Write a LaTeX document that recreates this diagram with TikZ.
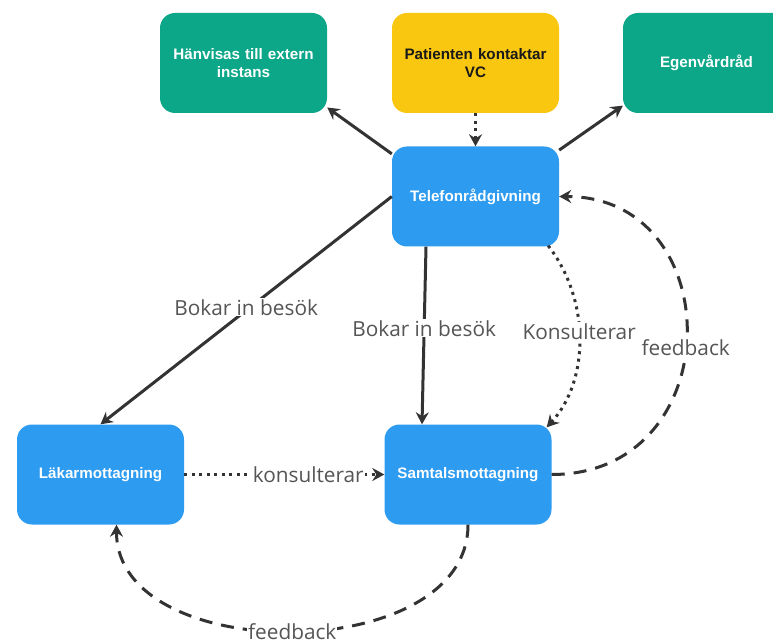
\documentclass[tikz,border=0pt]{standalone}
\usepackage{fontspec}
\setmainfont{Open Sans}
\newfontfamily\boxfont{Liberation Sans}
\usetikzlibrary{arrows.meta,calc}
\definecolor{mgreen}{HTML}{0CA789}
\definecolor{myellow}{HTML}{FAC710}
\definecolor{mblue}{HTML}{2D9BF0}
\definecolor{edgec}{HTML}{333333}
\definecolor{labc}{HTML}{555555}
\begin{document}
\begin{tikzpicture}[x=1pt,y=-1pt,
 box/.style={rectangle, rounded corners=15pt, minimum width=167pt, minimum height=100pt,
   align=center, font=\boxfont\bfseries\fontsize{15.2}{17.5}\selectfont, text=white,
   inner sep=0pt, text width=160pt},
 conn/.style={draw=edgec, line width=3pt, -{Stealth[length=12pt,width=13pt,inset=4pt]}},
 dotline/.style={dash pattern=on 3pt off 4.5pt},
 dashline/.style={dash pattern=on 13pt off 9pt},
 lab/.style={fill=white, text=labc, font=\fontsize{20.8}{23}\selectfont, inner sep=1pt}
]
\useasboundingbox (0,0) rectangle (773,644);
\node[box, fill=mgreen] (han) at (243.5,63) {Hänvisas till extern\\instans};
\node[box, fill=myellow, text=black!90] (pat) at (475.5,63) {Patienten kontaktar\\VC};
\node[box, fill=mgreen] (ego) at (706.5,63) {Egenvårdråd};
\node[box, fill=mblue] (tel) at (475.5,196.5) {Telefonrådgivning};
\node[box, fill=mblue] (lak) at (100.5,474.5) {Läkarmottagning};
\node[box, fill=mblue] (sam) at (468,474.5) {Samtalsmottagning};

\draw[conn] (tel.153) -- (han.-28);
\draw[conn, dotline] (pat.south) -- (tel.north);
\draw[conn] (tel.29) -- (ego.-153);
\draw[conn] (tel.west) -- (lak.north) node[lab, pos=0.5, yshift=3pt] {Bokar in besök};
\draw[conn] ($(tel.south)+(-49.5,0)$) -- ($(sam.north)+(-46,0)$) node[lab, pos=0.46] {Bokar in besök};
\draw[conn, dotline] ($(tel.south east)+(-11,-1)$) .. controls +(42,54) and +(43,-47) .. ($(sam.north east)+(-5,3)$)
  node[lab, pos=0.46] {Konsulterar};
\draw[conn, dashline] (sam.east) .. controls +(178,0) and +(171,0) .. (tel.east)
  node[lab, pos=0.47] {feedback};
\draw[conn, dotline] (lak.east) -- (sam.west) node[lab, pos=0.62] {konsulterar};
\draw[conn, dashline] (sam.south) .. controls +(0,142) and +(0,142) .. ($(lak.south)+(16,0)$)
  node[lab, pos=0.5] {feedback};
\end{tikzpicture}
\end{document}
